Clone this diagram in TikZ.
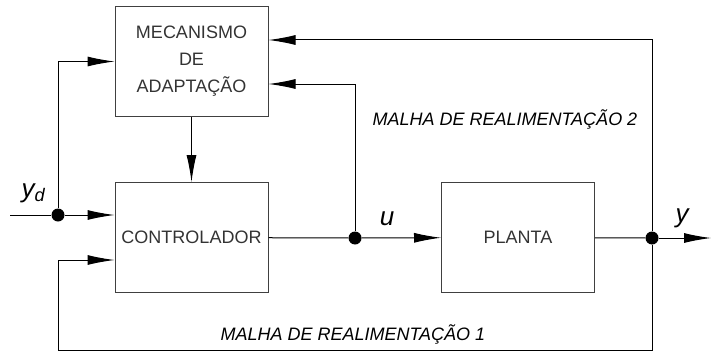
\documentclass[tikz,border=0pt]{standalone}
\usepackage{fontspec}
\setmainfont{Liberation Sans}
\usetikzlibrary{arrows.meta}

\begin{document}
\begin{tikzpicture}[x=1pt,y=-1pt]
    \tikzset{bloco/.style={draw=black!75,line width=1pt,minimum width=153pt,minimum height=110pt,
        align=center,text=black!80,font=\fontsize{18}{27}\selectfont}}
    \tikzset{seta/.style={-{Latex[length=27pt,width=10pt]},line width=1pt}}
    \tikzset{ponto/.style={circle,fill=black,inner sep=0pt,minimum size=13pt}}
    \tikzset{malha/.style={font=\fontsize{18}{22}\selectfont\itshape,anchor=base west}}
    \tikzset{sinal/.style={font=\fontsize{26}{30}\selectfont\itshape}}
    \useasboundingbox (0,0) rectangle (711,353);
    % blocos
    \node[bloco] (mec) at (191.5,61.5) {MECANISMO\\DE\\ADAPTAÇÃO};
    \node[bloco] (ctrl) at (191.5,237.5) {CONTROLADOR};
    \node[bloco] (planta) at (518,237.5) {PLANTA};
    % pontos de ramificacao
    \node[ponto] (jd) at (58,215) {};
    \node[ponto] (ju) at (355,238) {};
    \node[ponto] (jy) at (652,238) {};
    \coordinate (ent) at (10,215);
    \coordinate (sai) at (711,238);
    \coordinate (fundo) at (58,350);
    \coordinate (mecA) at ([yshift=21.5pt]mec.east);
    \coordinate (mecB) at ([yshift=-22.5pt]mec.east);
    \coordinate (ctrlA) at ([yshift=22.5pt]ctrl.west);
    \coordinate (ctrlB) at ([yshift=-22.5pt]ctrl.west);
    % ligacoes
    \draw[line width=1pt] (ent) -- (jd);
    \draw[seta] (jd) -- (ctrlA);
    \draw[seta] (jd) |- (mec.west);
    \draw[seta] (mec) -- (ctrl);
    \draw[line width=1pt] (ctrl) -- (ju);
    \draw[seta] (ju) -- (planta);
    \draw[seta] (ju) |- (mecB);
    \draw[line width=1pt] (planta) -- (jy);
    \draw[seta] (jy) -- (sai);
    \draw[seta] (jy) |- (mecA);
    \draw[seta] (jy) |- (fundo) |- (ctrlB);
    % rotulos
    \node[sinal,anchor=base west] (yd) at (18,197) {y\textsubscript{d}};
    \node[sinal,anchor=base] (u) at (387,225) {u};
    \node[sinal,anchor=base] (y) at (682,222) {y};
    \node[malha] (malha2) at (369,125) {MALHA DE REALIMENTAÇÃO 2};
    \node[malha] (malha1) at (217,340) {MALHA DE REALIMENTAÇÃO 1};
\end{tikzpicture}
\end{document}
